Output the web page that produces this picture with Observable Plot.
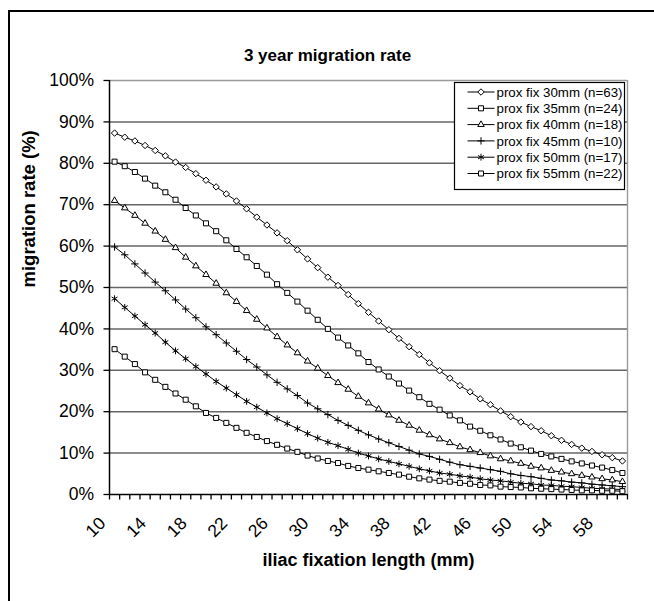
<!DOCTYPE html>
<html>
<head>
<meta charset="utf-8">
<script src="https://cdn.jsdelivr.net/npm/d3@7"></script>
<script src="https://cdn.jsdelivr.net/npm/@observablehq/plot@0.6"></script>
<style>
  html, body { margin: 0; padding: 0; background: #fff; }
  #chart { position: relative; width: 654px; height: 601px; overflow: hidden; background: #fff; }
  #frame { position: absolute; left: 8px; top: 10px; width: 720px; height: 720px;
           border-left: 2px solid #000; border-top: 2px solid #000; }
  #chart svg { position: absolute; left: 0; top: 0; }
</style>
</head>
<body>
<div id="chart"><div id="frame"></div></div>
<script>
// Iliac fixation length (mm), one category per millimetre
const lengths = [10, 11, 12, 13, 14, 15, 16, 17, 18, 19, 20, 21, 22, 23, 24, 25, 26, 27, 28, 29,
  30, 31, 32, 33, 34, 35, 36, 37, 38, 39, 40, 41, 42, 43, 44, 45, 46, 47, 48, 49,
  50, 51, 52, 53, 54, 55, 56, 57, 58, 59, 60];

// Axis tick values
const xTickLabels = [10, 14, 18, 22, 26, 30, 34, 38, 42, 46, 50, 54, 58];
const yTicks = [0, 10, 20, 30, 40, 50, 60, 70, 80, 90, 100];
const yGrid = [10, 20, 30, 40, 50, 60, 70, 80, 90];

// Series names
const seriesNames = [
  "prox fix 30mm (n=63)",
  "prox fix 35mm (n=24)",
  "prox fix 40mm (n=18)",
  "prox fix 45mm (n=10)",
  "prox fix 50mm (n=17)",
  "prox fix 55mm (n=22)"
];

// 3 year migration rate (%) per fixation length
const prox30 = [87.3, 86.3, 85.4, 84.3, 83.1, 81.8, 80.3, 79.0, 77.5, 75.9,
  74.3, 72.6, 70.9, 69.0, 67.0, 65.1, 63.2, 61.3, 59.1, 56.9,
  54.8, 52.5, 50.5, 48.3, 46.1, 44.0, 41.9, 39.8, 37.7, 35.7,
  33.8, 31.8, 29.9, 28.1, 26.3, 24.8, 23.1, 21.7, 20.2, 18.8,
  17.5, 16.4, 15.4, 14.2, 13.1, 12.1, 11.2, 10.4, 9.6, 8.9,
  8.1];
const prox35 = [80.4, 79.3, 77.9, 76.3, 74.6, 73.0, 71.2, 69.2, 67.4, 65.5,
  63.6, 61.4, 59.3, 57.3, 55.2, 53.1, 50.8, 48.7, 46.6, 44.4,
  42.2, 40.0, 37.9, 36.0, 34.1, 32.0, 30.2, 28.5, 26.8, 25.1,
  23.5, 21.9, 20.5, 19.1, 17.9, 16.4, 15.4, 14.3, 13.3, 12.3,
  11.4, 10.6, 9.8, 9.2, 8.6, 8.0, 7.5, 7.0, 6.5, 5.9,
  5.2];
const prox40 = [71.0, 69.2, 67.4, 65.5, 63.6, 61.6, 59.6, 57.3, 55.2, 53.1,
  51.0, 48.7, 46.6, 44.4, 42.3, 40.2, 38.1, 36.1, 34.2, 32.2,
  30.5, 28.7, 27.0, 25.4, 23.7, 22.1, 20.6, 19.2, 17.9, 16.7,
  15.5, 14.4, 13.4, 12.5, 11.5, 10.8, 10.1, 9.3, 8.6, 8.1,
  7.5, 6.8, 6.4, 5.8, 5.4, 5.0, 4.6, 4.2, 3.8, 3.5,
  3.1];
const prox45 = [59.8, 57.9, 55.7, 53.5, 51.3, 49.2, 47.0, 44.8, 42.7, 40.5,
  38.6, 36.6, 34.6, 32.6, 30.8, 28.9, 27.1, 25.5, 23.9, 22.1,
  20.7, 19.3, 17.9, 16.7, 15.5, 14.4, 13.4, 12.5, 11.6, 10.7,
  9.8, 9.2, 8.5, 7.8, 7.2, 6.8, 6.4, 6.0, 5.6, 5.0,
  4.6, 4.3, 3.9, 3.5, 3.3, 3.0, 2.8, 2.5, 2.3, 2.1,
  1.9];
const prox50 = [47.3, 45.2, 43.1, 41.0, 39.0, 36.8, 34.7, 32.8, 30.9, 29.1,
  27.3, 25.7, 24.1, 22.5, 21.1, 19.7, 18.3, 17.1, 15.9, 14.7,
  13.6, 12.6, 11.8, 10.9, 10.0, 9.3, 8.6, 8.0, 7.4, 6.8,
  6.2, 5.7, 5.2, 4.9, 4.5, 4.2, 3.8, 3.5, 3.3, 3.0,
  2.7, 2.6, 2.3, 2.2, 2.0, 1.9, 1.7, 1.5, 1.4, 1.3,
  1.2];
const prox55 = [35.1, 33.3, 31.5, 29.5, 27.7, 26.0, 24.4, 22.9, 21.3, 19.7,
  18.5, 17.3, 16.1, 14.9, 13.9, 12.9, 12.0, 11.1, 10.3, 9.4,
  8.7, 8.1, 7.6, 6.9, 6.4, 6.0, 5.6, 5.2, 4.8, 4.3,
  3.9, 3.6, 3.3, 3.1, 2.8, 2.6, 2.3, 2.2, 1.9, 1.8,
  1.7, 1.5, 1.4, 1.3, 1.2, 1.1, 1.0, 1.0, 0.9, 0.9,
  0.8];

const seriesValues = [prox30, prox35, prox40, prox45, prox50, prox55];

// Marker style per series (Plot symbol name, d3 symbol, radius)
const markerStyles = [
  {symbol: "diamond2", d3symbol: d3.symbolDiamond2, r: 2.9},
  {symbol: "square2", d3symbol: d3.symbolSquare2, r: 3.2},
  {symbol: "triangle2", d3symbol: d3.symbolTriangle2, r: 3.1},
  {symbol: "plus", d3symbol: d3.symbolPlus, r: 2.5},
  {symbol: "asterisk", d3symbol: d3.symbolAsterisk, r: 3.2},
  {symbol: "square2", d3symbol: d3.symbolSquare2, r: 3.2}
];

const tables = seriesValues.map(vals => lengths.map((x, i) => ({x, y: vals[i]})));

// Category boundaries for the tick marks between categories
const boundaries = lengths.map(d => d - 0.5).concat([lengths[lengths.length - 1] + 0.5]);

const font = "'Liberation Sans', Arial, Helvetica, sans-serif";

const seriesMarks = tables.flatMap((data, k) => [
  Plot.line(data, {x: "x", y: "y", stroke: "black", strokeWidth: 1}),
  Plot.dot(data, {x: "x", y: "y", symbol: markerStyles[k].symbol, r: markerStyles[k].r,
    stroke: "black", fill: "white", strokeWidth: 1})
]);

const chart = Plot.plot({
  width: 654,
  height: 601,
  marginLeft: 109,
  marginRight: 27,
  marginTop: 80,
  marginBottom: 107,
  style: {fontFamily: font, background: "none", color: "black", overflow: "visible"},
  x: {domain: [9.5, 60.5]},
  y: {domain: [0, 100]},
  marks: [
    Plot.ruleY(yGrid, {stroke: "#666", strokeWidth: 1.5}),
    Plot.ruleY([100], {stroke: "#9a9a9a", strokeWidth: 1.4}),
    Plot.ruleX([60.5], {stroke: "#9a9a9a", strokeWidth: 1.4}),
    Plot.axisY({ticks: yTicks, tickFormat: d => d + "%", tickSize: 5.5, tickPadding: 10,
      fontSize: 17.5, label: null, strokeWidth: 1.3}),
    Plot.axisX({ticks: boundaries, tickFormat: () => "", tickSize: 5.5, label: null, strokeWidth: 1.3}),
    Plot.axisX({ticks: xTickLabels, tickSize: 0, tickPadding: 26, tickRotate: -45,
      textAnchor: "end", lineAnchor: "middle", dx: -12, fontSize: 17.5, label: null}),
    Plot.ruleX([9.5], {stroke: "black", strokeWidth: 1.5}),
    Plot.ruleY([0], {stroke: "black", strokeWidth: 1.5}),
    ...seriesMarks,
    Plot.text(["3 year migration rate"], {frameAnchor: "top", dx: -41, dy: -25,
      fontSize: 17, fontWeight: "bold", lineAnchor: "middle"}),
    Plot.text(["migration rate (%)"], {frameAnchor: "left", dx: -80, rotate: -90,
      fontSize: 18.5, fontWeight: "bold", lineAnchor: "middle"}),
    Plot.text(["iliac fixation length (mm)"], {frameAnchor: "bottom", dy: 66,
      fontSize: 18, fontWeight: "bold", lineAnchor: "middle"})
  ]
});

document.getElementById("chart").appendChild(chart);

// Legend box inside the upper right of the plot area
const legend = d3.select(chart).append("g")
  .attr("transform", "translate(454.5,82.5)")
  .attr("text-anchor", "start")
  .style("font-family", font);
legend.append("rect")
  .attr("width", 170).attr("height", 107)
  .attr("fill", "white").attr("stroke", "black").attr("stroke-width", 1.2);
seriesNames.forEach((name, k) => {
  const row = legend.append("g").attr("transform", `translate(0,${9.5 + k * 16.3})`);
  row.append("line").attr("x1", 13).attr("x2", 40).attr("stroke", "black");
  const m = markerStyles[k];
  row.append("path")
    .attr("transform", "translate(26.5,0)")
    .attr("d", d3.symbol(m.d3symbol, Math.PI * m.r * m.r)())
    .attr("fill", "white").attr("stroke", "black");
  row.append("text")
    .attr("x", 42).attr("dy", "0.35em")
    .attr("text-anchor", "start")
    .attr("font-size", 13.3)
    .attr("fill", "black")
    .text(name);
});
</script>
</body>
</html>
